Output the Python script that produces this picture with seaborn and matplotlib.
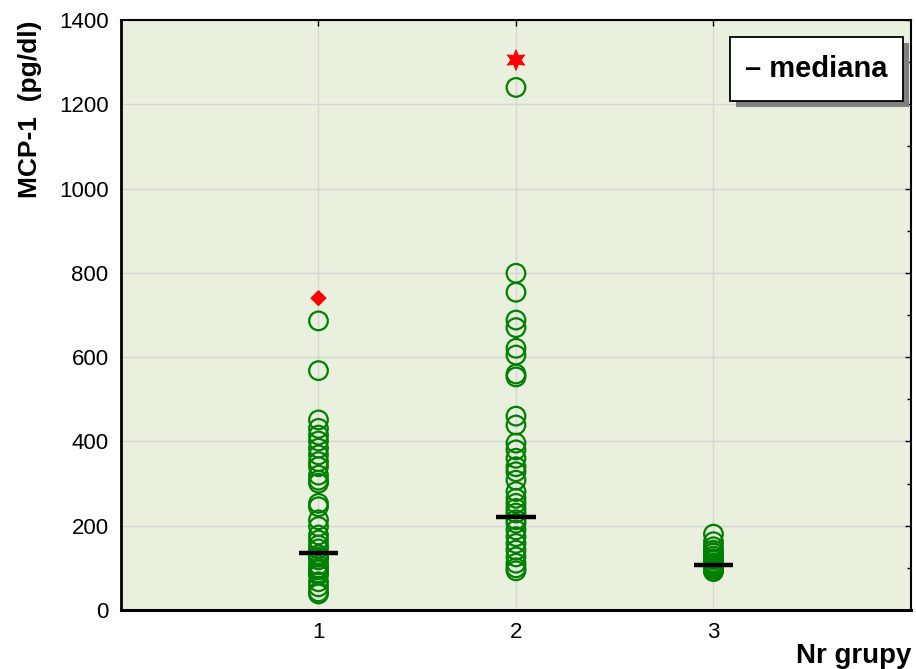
import numpy as np
import pandas as pd
import matplotlib
matplotlib.use("Agg")
import matplotlib.pyplot as plt
from matplotlib.patches import Rectangle
import seaborn as sns

# MCP-1 concentrations (pg/dl) per study group
group_1 = [686, 568, 451, 431, 415, 401, 384, 368, 352, 340, 320, 308, 301,
           253, 245, 214, 198, 178, 166, 154, 145, 131, 125, 119, 107, 100,
           95, 88, 83, 67, 55, 43, 38]
group_2 = [1240, 799, 754, 688, 670, 621, 605, 560, 553, 460, 439, 396, 380,
           360, 340, 328, 308, 281, 265, 253, 241, 230, 214, 206, 190, 174,
           158, 142, 126, 111, 100, 93]
group_3 = [180, 162, 150, 142, 135, 128, 122, 118, 112, 108, 104, 100, 97,
           94, 91]

group_ids = [1, 2, 3]
medians = [136, 221, 107]

# extreme values drawn with their own markers
extreme_group = [1, 2]
extreme_value = [740, 1305]
extreme_marker = ["D", (6, 1, 0)]
extreme_size = [70, 260]

y_ticks = [0, 200, 400, 600, 800, 1000, 1200, 1400]

df = pd.DataFrame({
    "grupa": [1] * len(group_1) + [2] * len(group_2) + [3] * len(group_3),
    "mcp1": group_1 + group_2 + group_3,
})

sns.set_style("white")
plt.rcParams["font.family"] = ["Liberation Sans", "DejaVu Sans"]
plt.rcParams["text.color"] = "black"
plt.rcParams["axes.labelcolor"] = "black"
plt.rcParams["xtick.color"] = "black"
plt.rcParams["ytick.color"] = "black"

fig = plt.figure(figsize=(9.16, 6.69), dpi=100)
ax = fig.add_axes([0.1321, 0.0882, 0.8624, 0.8819])
ax.set_facecolor("#e9f0de")
ax.set_axisbelow(True)

sns.scatterplot(data=df, x="grupa", y="mcp1", marker="o", s=180,
                facecolors="none", edgecolor="#008000", linewidth=1.6,
                ax=ax, zorder=3, legend=False)

for g, v, m, s in zip(extreme_group, extreme_value, extreme_marker, extreme_size):
    sns.scatterplot(x=[g], y=[v], marker=m, s=s, color="#ff0000",
                    edgecolor="none", ax=ax, zorder=4, legend=False)

ax.hlines(medians, np.array(group_ids) - 0.1, np.array(group_ids) + 0.1,
          color="black", linewidth=3.2, zorder=5)

ax.set_xlim(0, 4)
ax.set_ylim(0, 1400)
ax.set_xticks(group_ids)
ax.set_yticks(y_ticks)
ax.set_yticks(np.arange(100, 1400, 200), minor=True)
ax.grid(True, which="major", color="#d6d6d6", linewidth=1.0)
ax.tick_params(which="both", direction="in", top=True, right=True,
               length=4, width=1, color="black", labelcolor="black",
               labelsize=16, pad=9)
ax.tick_params(which="minor", length=3)

for side, sp in ax.spines.items():
    sp.set_visible(True)
    sp.set_color("black")
    sp.set_linewidth(1.5)
ax.spines["bottom"].set_linewidth(2.2)
ax.spines["left"].set_linewidth(2.0)

ax.set_ylabel("MCP-1  (pg/dl)", fontsize=19, fontweight="bold", loc="top",
              labelpad=12, color="black")
ax.set_xlabel("Nr grupy", fontsize=20, fontweight="bold", loc="right",
              labelpad=0, color="black")

# legend box with a drop shadow
px = 1 / 790.0
py = 1 / 590.0
bx0, bx1 = (730 - 121) * px, (903 - 121) * px
by1, by0 = 1 - (37 - 20) * py, 1 - (101 - 20) * py
ax.add_patch(Rectangle((bx0 + 6 * px, by0 - 6 * py), bx1 - bx0, by1 - by0,
                       transform=ax.transAxes, facecolor="#808080",
                       edgecolor="none", zorder=6, clip_on=False))
ax.add_patch(Rectangle((bx0, by0), bx1 - bx0, by1 - by0,
                       transform=ax.transAxes, facecolor="white",
                       edgecolor="black", linewidth=1.3, zorder=7,
                       clip_on=False))
ax.text((bx0 + bx1) / 2, (by0 + by1) / 2, "– mediana", transform=ax.transAxes,
        ha="center", va="center", fontsize=21, fontweight="bold", zorder=8)

fig.savefig("out.png", dpi=100)
